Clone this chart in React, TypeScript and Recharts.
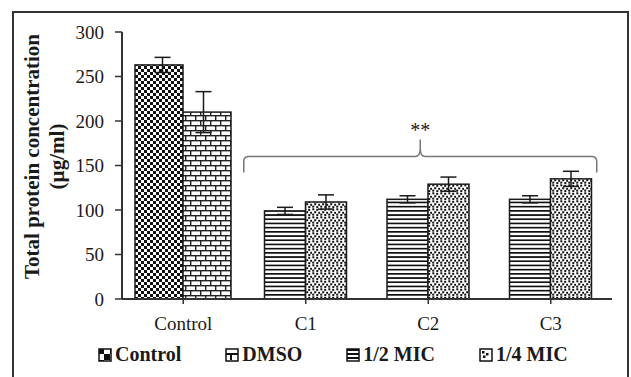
import { BarChart, Bar, XAxis, YAxis, ErrorBar, ReferenceLine } from "recharts";

// group means and standard deviations (µg/ml)
const categories = ["Control", "C1", "C2", "C3"];
const controlMeans = [263, null, null, null];
const controlErrors = [8.5, null, null, null];
const dmsoMeans = [210, null, null, null];
const dmsoErrors = [23, null, null, null];
const halfMicMeans = [null, 99, 112, 112];
const halfMicErrors = [null, 4, 4, 4];
const quarterMicMeans = [null, 109, 129, 135];
const quarterMicErrors = [null, 8, 8, 8.5];

const yTicks = [0, 50, 100, 150, 200, 250, 300];
const legendLabels = ["Control", "DMSO", "1/2 MIC", "1/4 MIC"];
const legendPatterns = ["lg-check", "lg-brick", "lg-stripe", "lg-dots"];
const bracketLevel = 160;
const bracketFrom = "C1";
const bracketTo = "C3";
const bracketText = "**";

const FONT = '"Liberation Serif", "Times New Roman", serif';
const INK = "#1a1a1a";

// two bar slots per category: left = Control / 1/2 MIC, right = DMSO / 1/4 MIC
const rows = categories.map((name, i) => ({
  name,
  isControl: controlMeans[i] != null,
  left: controlMeans[i] ?? halfMicMeans[i],
  leftErr: controlErrors[i] ?? halfMicErrors[i],
  right: dmsoMeans[i] ?? quarterMicMeans[i],
  rightErr: dmsoErrors[i] ?? quarterMicErrors[i],
}));

// the control group is drawn a bit wider than the treated groups
const LeftBar = (p: any) => {
  const wide = p.payload?.isControl;
  const x = wide ? p.x - 7 : p.x;
  const w = wide ? p.width + 7 : p.width;
  return (
    <rect
      x={x}
      y={p.y}
      width={w}
      height={p.height}
      fill={wide ? "url(#pat-check)" : "url(#pat-stripe)"}
      stroke={INK}
      strokeWidth={1.5}
    />
  );
};

const RightBar = (p: any) => {
  const wide = p.payload?.isControl;
  const w = wide ? p.width + 7 : p.width;
  return (
    <rect
      x={p.x}
      y={p.y}
      width={w}
      height={p.height}
      fill={wide ? "url(#pat-brick)" : "url(#pat-dots)"}
      stroke={INK}
      strokeWidth={1.5}
    />
  );
};

// curly bracket over the treated groups with the significance mark
const Bracket = (p: any) => {
  const left = p.x1 - 62;
  const right = p.x2 + 46;
  const y = p.y1;
  const mid = (left + right) / 2;
  const d = [
    `M ${left} ${y + 16}`,
    `L ${left} ${y + 5}`,
    `Q ${left} ${y} ${left + 5} ${y}`,
    `L ${mid - 5} ${y}`,
    `Q ${mid} ${y} ${mid} ${y - 8}`,
    `L ${mid} ${y - 17}`,
    `M ${mid} ${y - 8}`,
    `Q ${mid} ${y} ${mid + 5} ${y}`,
    `L ${right - 5} ${y}`,
    `Q ${right} ${y} ${right} ${y + 5}`,
    `L ${right} ${y + 16}`,
  ].join(" ");
  return (
    <g>
      <path d={d} fill="none" stroke="#777" strokeWidth={1.5} />
      <text x={mid} y={y - 20} textAnchor="middle" fontFamily={FONT} fontSize={20} fill={INK}>
        {bracketText}
      </text>
    </g>
  );
};

const YTitle = ({ viewBox }: any) => {
  const cy = viewBox.y + viewBox.height / 2 - 9;
  return (
    <g fontFamily={FONT} fontWeight="bold" fontSize={21} fill={INK}>
      <text x={39} y={cy} textAnchor="middle" transform={`rotate(-90, 39, ${cy})`}>
        Total protein concentration
      </text>
      <text x={64} y={cy} textAnchor="middle" transform={`rotate(-90, 64, ${cy})`}>
        (µg/ml)
      </text>
    </g>
  );
};

const Patterns = () => (
  <svg width={0} height={0} style={{ position: "absolute" }}>
    <defs>
      <pattern id="pat-check" width={6} height={6} patternUnits="userSpaceOnUse">
        <rect width={6} height={6} fill="#fff" />
        <rect x={0} y={0} width={3} height={3} fill="#111" />
        <rect x={3} y={3} width={3} height={3} fill="#111" />
      </pattern>
      <pattern id="pat-brick" width={10} height={10} patternUnits="userSpaceOnUse">
        <rect width={10} height={10} fill="#fff" />
        <rect x={0} y={0} width={10} height={1.4} fill="#222" />
        <rect x={0} y={5} width={10} height={1.4} fill="#222" />
        <rect x={0} y={0} width={1.4} height={5} fill="#222" />
        <rect x={5} y={5} width={1.4} height={5} fill="#222" />
      </pattern>
      <pattern id="pat-stripe" width={4} height={4.2} patternUnits="userSpaceOnUse">
        <rect width={4} height={4.2} fill="#fff" />
        <rect x={0} y={0} width={4} height={1.7} fill="#111" />
      </pattern>
      <pattern id="pat-dots" width={8} height={8} patternUnits="userSpaceOnUse">
        <rect width={8} height={8} fill="#fff" />
        <rect x={0.3} y={0.3} width={2} height={2} fill="#111" />
        <rect x={4.2} y={0.8} width={2} height={2} fill="#111" />
        <rect x={2.2} y={3.2} width={2} height={2} fill="#111" />
        <rect x={6.2} y={3.8} width={2} height={2} fill="#111" />
        <rect x={0.2} y={5.6} width={2} height={2} fill="#111" />
        <rect x={4.3} y={6.1} width={2} height={2} fill="#111" />
      </pattern>
      {/* coarser versions for the small legend keys */}
      <pattern id="lg-check" width={12} height={12} patternUnits="userSpaceOnUse">
        <rect width={12} height={12} fill="#fff" />
        <rect x={0} y={0} width={6} height={6} fill="#111" />
        <rect x={6} y={6} width={6} height={6} fill="#111" />
      </pattern>
      <pattern id="lg-brick" width={12} height={12} patternUnits="userSpaceOnUse">
        <rect width={12} height={12} fill="#fff" />
        <rect x={0} y={5} width={12} height={2} fill="#111" />
        <rect x={5} y={7} width={2} height={5} fill="#111" />
      </pattern>
      <pattern id="lg-stripe" width={12} height={4} patternUnits="userSpaceOnUse">
        <rect width={12} height={4} fill="#fff" />
        <rect x={0} y={1} width={12} height={2} fill="#111" />
      </pattern>
      <pattern id="lg-dots" width={12} height={12} patternUnits="userSpaceOnUse">
        <rect width={12} height={12} fill="#fff" />
        <rect x={3} y={3} width={2.5} height={2.5} fill="#111" />
        <rect x={7} y={5} width={2.5} height={2.5} fill="#111" />
        <rect x={4} y={7.5} width={2.5} height={2.5} fill="#111" />
      </pattern>
    </defs>
  </svg>
);

export default function App() {
  return (
    <div
      style={{
        position: "absolute",
        left: 0,
        top: 0,
        width: 631,
        height: 377,
        overflow: "hidden",
        background: "#fff",
        fontFamily: FONT,
      }}
    >
      <Patterns />
      <div
        style={{
          position: "absolute",
          left: 12,
          top: 11,
          width: 613,
          height: 380,
          border: "2px solid #333",
          borderBottom: "none",
        }}
      />
      <BarChart
        width={631}
        height={377}
        data={rows}
        margin={{ top: 32, right: 19, left: 0, bottom: 38 }}
        barCategoryGap={20}
        barGap={0}
        style={{ position: "absolute", left: 0, top: 0 }}
      >
        <XAxis
          dataKey="name"
          height={40}
          tickSize={5}
          tickMargin={13}
          axisLine={{ stroke: "#333", strokeWidth: 2 }}
          tickLine={{ stroke: "#333", strokeWidth: 1.5 }}
          tick={{ fontFamily: FONT, fontSize: 19, fill: INK }}
        />
        <YAxis
          domain={[0, 300]}
          ticks={yTicks}
          width={122}
          tickSize={7}
          tickMargin={11}
          interval={0}
          axisLine={{ stroke: "#333", strokeWidth: 2 }}
          tickLine={{ stroke: "#333", strokeWidth: 1.5 }}
          tick={{ fontFamily: FONT, fontSize: 19, fill: INK }}
          label={{ content: YTitle }}
        />
        <Bar dataKey="left" shape={LeftBar} isAnimationActive={false}>
          <ErrorBar dataKey="leftErr" width={8} stroke={INK} strokeWidth={1.5} />
        </Bar>
        <Bar dataKey="right" shape={RightBar} isAnimationActive={false}>
          <ErrorBar dataKey="rightErr" width={8} stroke={INK} strokeWidth={1.5} />
        </Bar>
        <ReferenceLine
          segment={[
            { x: bracketFrom, y: bracketLevel },
            { x: bracketTo, y: bracketLevel },
          ]}
          shape={Bracket}
          ifOverflow="visible"
        />
      </BarChart>
      <div
        style={{
          position: "absolute",
          left: 98,
          top: 343,
          display: "flex",
          alignItems: "center",
          gap: 44,
          fontWeight: "bold",
          fontSize: 20,
          color: INK,
          whiteSpace: "nowrap",
        }}
      >
        {legendLabels.map((label, i) => (
          <span key={label} style={{ display: "flex", alignItems: "center", gap: 3 }}>
            <svg width={14} height={14}>
              <rect x={1} y={1} width={12} height={12} fill={`url(#${legendPatterns[i]})`} stroke="#111" strokeWidth={1.5} />
            </svg>
            {label}
          </span>
        ))}
      </div>
    </div>
  );
}
